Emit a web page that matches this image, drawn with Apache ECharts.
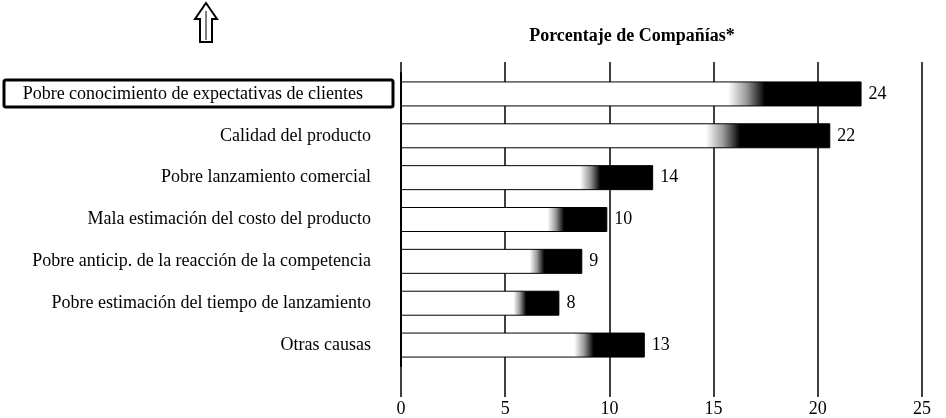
<!DOCTYPE html>
<html>
<head>
<meta charset="utf-8">
<script src="https://cdn.jsdelivr.net/npm/echarts@6/dist/echarts.min.js"></script>
<style>html,body{margin:0;padding:0;background:#fff}#c{width:946px;height:418px}</style>
</head>
<body>
<div id="c"></div>
<script>
const categories = [
  'Pobre conocimiento de expectativas de clientes',
  'Calidad del producto',
  'Pobre lanzamiento comercial',
  'Mala estimación del costo del producto',
  'Pobre anticip. de la reacción de la competencia',
  'Pobre estimación del tiempo de lanzamiento',
  'Otras causas'
];
// bar lengths as drawn in the picture
const barValues = [22.1, 20.6, 12.1, 9.9, 8.7, 7.6, 11.7];
// numbers printed at the bar ends
const labelValues = ['24', '22', '14', '10', '9', '8', '13'];
const axisTicks = [0, 5, 10, 15, 20, 25];
const titleText = 'Porcentaje de Compañías*';

const serif = "'Liberation Serif', 'DejaVu Serif', serif";
const labelPadRight = [8, 0, 0, 0, 0, 0, 0];

const chart = echarts.init(document.getElementById('c'), null, {renderer: 'canvas'});
const grad = new echarts.graphic.LinearGradient(0, 0, 1, 0, [
  {offset: 0, color: '#ffffff'},
  {offset: 0.71, color: '#ffffff'},
  {offset: 0.75, color: '#9a9a9a'},
  {offset: 0.79, color: '#000000'},
  {offset: 1, color: '#000000'}
]);

chart.setOption({
  backgroundColor: '#ffffff',
  animation: false,
  title: {
    text: titleText,
    left: 627, top: 22, textAlign: 'center',
    textStyle: {fontFamily: serif, fontSize: 18, fontWeight: 'bold', color: '#000'}
  },
  grid: [
    {left: 401, right: 24, top: 62, bottom: 20},
    {left: 401, right: 24, top: 73, height: 293}
  ],
  xAxis: [
    {
      gridIndex: 0, type: 'value', min: axisTicks[0], max: axisTicks[axisTicks.length - 1], interval: 5,
      axisLine: {show: false}, axisTick: {show: false},
      splitLine: {show: true, showMinLine: true, showMaxLine: true, lineStyle: {color: '#000', width: 1.5}},
      axisLabel: {fontFamily: serif, fontSize: 18, color: '#000', margin: 3}
    },
    {gridIndex: 1, type: 'value', min: 0, max: 25, show: false}
  ],
  yAxis: [
    {gridIndex: 0, type: 'value', show: false},
    {
      gridIndex: 1, type: 'category', inverse: true,
      data: categories.map((c, i) => ({value: c, textStyle: {padding: [0, labelPadRight[i], 0, 0]}})),
      axisLine: {show: true, lineStyle: {color: '#000', width: 2}},
      axisTick: {show: false},
      axisLabel: {fontFamily: serif, fontSize: 18, color: '#000', margin: 30}
    }
  ],
  series: [{
    type: 'bar', xAxisIndex: 1, yAxisIndex: 1,
    data: barValues,
    barWidth: 25,
    itemStyle: {color: grad, borderColor: '#000', borderWidth: 1},
    label: {
      show: true, position: 'right', distance: 7,
      formatter: p => labelValues[p.dataIndex],
      fontFamily: serif, fontSize: 18, color: '#000'
    }
  }],
  graphic: [
    {
      type: 'rect', shape: {x: 4, y: 80, width: 389, height: 27, r: 2},
      style: {fill: 'none', stroke: '#000', lineWidth: 3}, z: 10
    },
    {
      type: 'polygon',
      shape: {points: [[206, 3], [217, 19], [212, 19], [212, 42], [200, 42], [200, 19], [195, 19]]},
      style: {fill: '#fff', stroke: '#000', lineWidth: 2}, z: 10
    },
    {
      type: 'line', shape: {x1: 206, y1: 11, x2: 206, y2: 40},
      style: {stroke: '#000', lineWidth: 1}, z: 10
    }
  ]
});
</script>
</body>
</html>
